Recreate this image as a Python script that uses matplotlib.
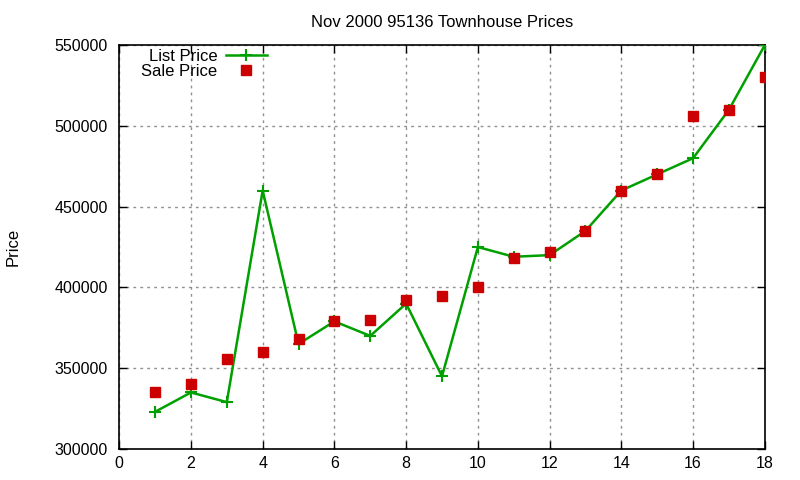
import matplotlib
matplotlib.use("Agg")
import matplotlib.pyplot as plt

# Datos
house = list(range(1, 19))
list_price = [323000, 335000, 329000, 460000, 365000, 379000, 370000, 390000, 345000,
              425000, 419000, 420000, 435000, 460000, 470000, 480000, 510000, 550000]
sale_price = [335000, 340000, 356000, 360000, 368000, 379000, 380000, 392000, 395000,
              400000, 418500, 422000, 435000, 460000, 470000, 506000, 510000, 530000]
x_ticks = list(range(0, 19, 2))
y_ticks = list(range(300000, 550001, 50000))

plt.rcParams['font.family'] = ['Liberation Sans', 'DejaVu Sans']

fig = plt.figure(figsize=(8, 4.8), dpi=100)
ax = fig.add_axes([0.149, 0.0646, 0.807, 0.8414])

ax.plot(house, list_price, color="#00a000", linewidth=1.8, marker="+", markersize=9,
        markeredgewidth=1.5, label="List Price", zorder=3)
ax.plot(house, sale_price, linestyle="none", marker="s", markersize=6.5,
        color="#cc0000", label="Sale Price", zorder=4)

ax.set_xlim(0, 18)
ax.set_ylim(300000, 550000)
ax.set_xticks(x_ticks)
ax.set_yticks(y_ticks)
ax.tick_params(direction="in", top=True, right=True, labelsize=11.5, length=6, width=1)
ax.tick_params(axis="x", pad=5)
ax.tick_params(axis="y", pad=8)
ax.grid(True, color="#909090", linestyle=(0, (2, 3)), linewidth=1)
for s in ax.spines.values():
    s.set_linewidth(1.2)

ax.set_title("Nov 2000 95136 Townhouse Prices", fontsize=12, pad=13)
# etiqueta del eje y puesta a mano para que no se corte
fig.text(0.016, 0.485, "Price", rotation=90, fontsize=12, ha="center", va="center")

leg = ax.legend(loc="upper left", bbox_to_anchor=(0.016, 1.02), frameon=False,
                markerfirst=False, fontsize=12, handlelength=2.5,
                borderaxespad=0.3, labelspacing=0.0, handletextpad=0.5)
for t in leg.get_texts():
    t.set_ha("right")

fig.savefig("out.png")
